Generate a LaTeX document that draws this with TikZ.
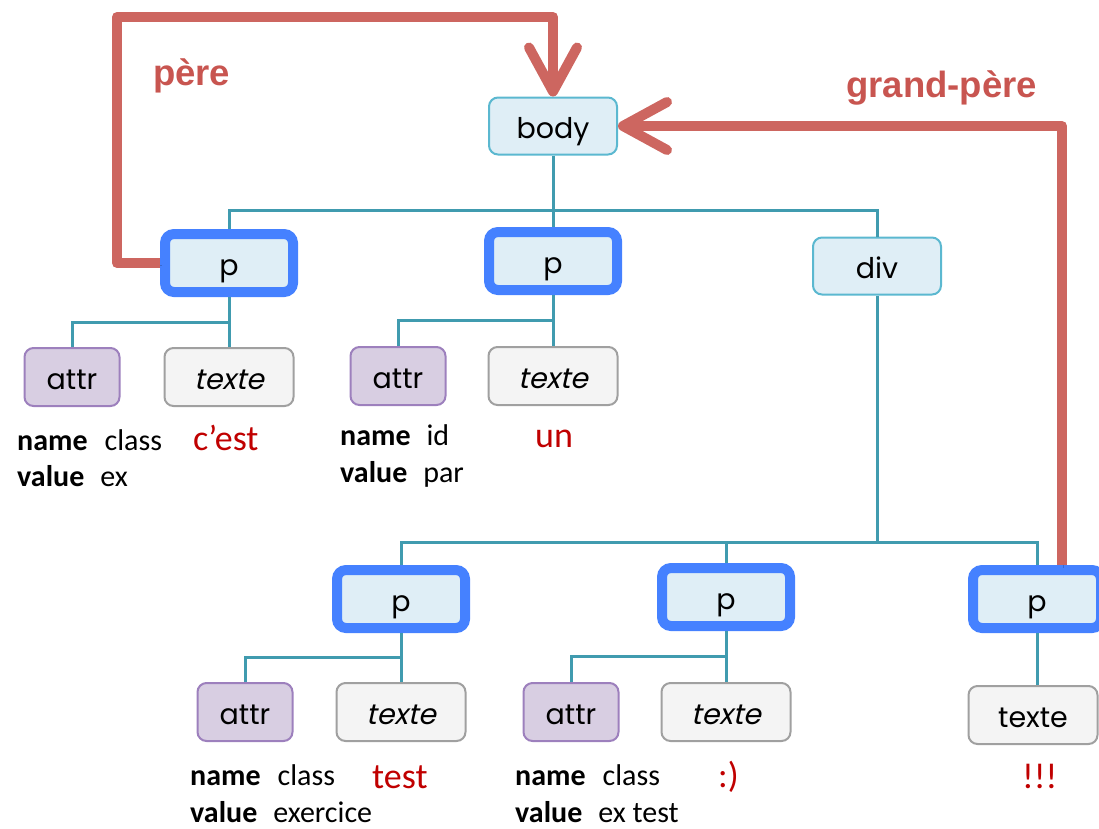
\documentclass[tikz,border=0pt]{standalone}
\usepackage{fontspec}
\setmainfont{Carlito}
\newfontfamily\boxfont{Poppins}
\newfontfamily\boxfontit{Poppins}[FakeSlant=0.22]
\newfontfamily\labfont{Liberation Sans}
\usetikzlibrary{arrows.meta,calc}
\definecolor{arrowred}{RGB}{205,102,96}
\definecolor{labred}{RGB}{200,85,80}
\definecolor{darkred}{RGB}{192,0,0}
\definecolor{teal}{RGB}{64,155,175}
\definecolor{eltfill}{RGB}{223,238,246}
\definecolor{eltdraw}{RGB}{91,184,208}
\definecolor{pdraw}{RGB}{69,129,255}
\definecolor{attrfill}{RGB}{216,206,226}
\definecolor{attrdraw}{RGB}{157,128,189}
\definecolor{txtfill}{RGB}{244,244,244}
\definecolor{txtdraw}{RGB}{160,160,160}
\begin{document}
\begin{tikzpicture}[x=1pt,y=-1pt,
  boxlabel/.style={font=\boxfont\fontsize{28.5}{32}\selectfont, inner sep=0pt, text=black, text height=25pt, text depth=0pt},
  elt/.style={boxlabel, draw=eltdraw, fill=eltfill, line width=2pt, rounded corners=9pt, minimum width=128pt, minimum height=57pt},
  pbox/.style={boxlabel, draw=pdraw, fill=eltfill, line width=10pt, rounded corners=9pt, minimum width=128pt, minimum height=58pt},
  attrbox/.style={boxlabel, draw=attrdraw, fill=attrfill, line width=2pt, rounded corners=9pt, minimum width=95pt, minimum height=58pt},
  textbox/.style={boxlabel, draw=txtdraw, fill=txtfill, line width=2pt, rounded corners=9pt, minimum width=129pt, minimum height=58pt},
  conn/.style={draw=teal, line width=3pt},
  redarrow/.style={draw=arrowred, line width=10pt, line join=round,
    -{Straight Barb[length=44pt,width=48pt,round]},
    preaction={draw=black, opacity=0.18, transform canvas={shift={(1.5pt,-2.5pt)}}}},
  lab/.style={font=\labfont\bfseries\fontsize{36.5}{40}\selectfont, text=labred, inner sep=0pt, anchor=base west},
  info/.style={font=\fontsize{30}{36}\selectfont, inner sep=0pt, anchor=base west},
  val/.style={font=\fontsize{36}{40}\selectfont, text=darkred, inner sep=0pt, anchor=base west}
]
\useasboundingbox (0,0) rectangle (1099,828);

% nodes
\node[elt] (body) at (553,126) {body};
\node[pbox] (p1) at (229,263) {p};
\node[pbox] (p2) at (553,261) {p};
\node[elt] (div) at (877,266) {div};
\node[attrbox] (a1) at (72,377) {attr};
\node[textbox] (t1) at (229,377) {\boxfontit texte};
\node[attrbox] (a2) at (398,376) {attr};
\node[textbox] (t2) at (553,376) {\boxfontit texte};
\node[pbox] (p3) at (401,599) {p};
\node[pbox] (p4) at (726,597) {p};
\node[pbox] (p5) at (1037,599) {p};
\node[attrbox] (a3) at (245,712) {attr};
\node[textbox] (t3) at (401,712) {\boxfontit texte};
\node[attrbox] (a4) at (571,712) {attr};
\node[textbox] (t4) at (726,712) {\boxfontit texte};
\node[textbox] (t5) at (1033,715) {texte};

% tree connectors
\coordinate (b0) at (553,210);
\draw[conn] (body.south) -- (b0);
\draw[conn] (p1.north) |- (b0) -| (div.north);
\draw[conn] (b0) -- (p2.north);
\coordinate (d0) at (877,542);
\draw[conn] (div.south) -- (d0);
\draw[conn] (p3.north) |- (d0) -| (p5.north);
\draw[conn] (p4.north) -- (p4.north |- d0);

\draw[conn] (p1.south) -- (t1.north);
\draw[conn] (a1.north) |- ($(p1.south)!.5!(t1.north)$);
\draw[conn] (p2.south) -- (t2.north);
\draw[conn] (a2.north) |- ($(p2.south)!.5!(t2.north)$);
\draw[conn] (p3.south) -- (t3.north);
\draw[conn] (a3.north) |- ($(p3.south)!.5!(t3.north)$);
\draw[conn] (p4.south) -- (t4.north);
\draw[conn] (a4.north) |- ($(p4.south)!.5!(t4.north)$);
\draw[conn] (p5.south) -- (p5.south |- t5.north);

% red arrows
\coordinate (c1) at (117,17);
\draw[redarrow] (p1.west) -| (c1) -| (body.north);
\draw[redarrow] ([xshift=25pt]p5.north) |- (body.east);

\node[lab] (lp) at (153,85) {père};
\node[lab] (lgp) at (846,97) {grand-père};

% attribute and text values
\node[info] (n1) at (17,450) {\textbf{name}\hspace{17pt}class};
\node[info] (v1) at (17,486) {\textbf{value}\hspace{16pt}ex};
\node[val] (x1) at (193,450) {c’est};
\node[info] (n2) at (340,445) {\textbf{name}\hspace{16pt}id};
\node[info] (v2) at (340,482) {\textbf{value}\hspace{16pt}par};
\node[val] (x2) at (535,447) {un};
\node[info] (n3) at (190,785) {\textbf{name}\hspace{17pt}class};
\node[info] (v3) at (190,822) {\textbf{value}\hspace{16pt}exercice};
\node[val] (x3) at (372,788) {test};
\node[info] (n4) at (515,785) {\textbf{name}\hspace{17pt}class};
\node[info] (v4) at (515,822) {\textbf{value}\hspace{16pt}ex test};
\node[val] (x4) at (718,787) {:)};
\node[val] (x5) at (1022,788) {!!!};
\end{tikzpicture}
\end{document}
